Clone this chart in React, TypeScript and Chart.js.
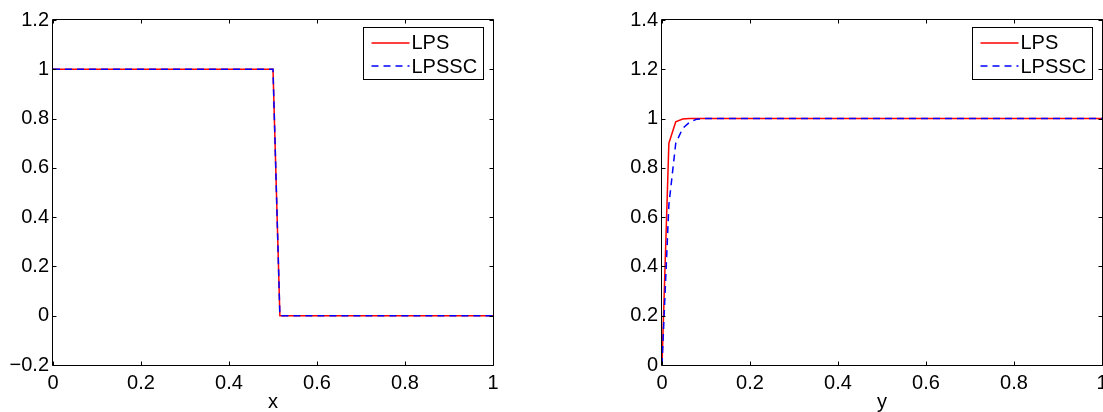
import React, { useEffect, useRef } from "react";
import { Chart, registerables } from "chart.js";

Chart.register(...registerables);

// ---- data ----
const xTicks = [0, 0.2, 0.4, 0.6, 0.8, 1];
const yTicksLeft = [-0.2, 0, 0.2, 0.4, 0.6, 0.8, 1, 1.2];
const yTicksRight = [0, 0.2, 0.4, 0.6, 0.8, 1, 1.2, 1.4];

const leftLpsX = [0, 0.5, 0.515625, 1];
const leftLpsY = [1, 1, 0, 0];
const leftLpsscX = [0, 0.5, 0.515625, 1];
const leftLpsscY = [1, 1, 0, 0];

const rightLpsX = [0, 0.015625, 0.03125, 0.046875, 0.0625, 1];
const rightLpsY = [0, 0.9, 0.987, 0.998, 1, 1];
const rightLpsscX = [0, 0.015625, 0.03125, 0.046875, 0.0625, 0.078125, 0.09375, 1];
const rightLpsscY = [0, 0.65, 0.9, 0.96, 0.985, 0.997, 1, 1];

const seriesNames = ["LPS", "LPSSC"];
const seriesColors = ["#ff0000", "#0000ff"];
const seriesDash: number[][] = [[], [7, 5]];
const LINE_W = 1.5;

const FONT_FAMILY = "'Liberation Sans', Arial, Helvetica, sans-serif";
const FONT_SIZE = 20;

function fmt(v: number): string {
  const r = Number(Number(v).toFixed(2));
  if (r < 0) return "\u2212" + String(-r);
  return String(r);
}

function pts(xs: number[], ys: number[]) {
  return xs.map((x, i) => ({ x, y: ys[i] }));
}

const framePlugin = {
  id: "matlabFrame",
  afterDatasetsDraw(chart: any) {
    const { ctx, chartArea: a, scales } = chart;
    const xs = scales.x;
    const ys = scales.y;
    const tl = 4;
    ctx.save();
    ctx.strokeStyle = "#000";
    ctx.lineWidth = 1;
    ctx.setLineDash([]);
    ctx.beginPath();
    const L = Math.round(a.left) - 0.5;
    const R = Math.round(a.right) + 0.5;
    const T = Math.round(a.top) - 0.5;
    const B = Math.round(a.bottom) + 0.5;
    ctx.rect(L, T, R - L, B - T);
    for (const t of xs.ticks) {
      const px = Math.round(xs.getPixelForValue(t.value)) + 0.5;
      ctx.moveTo(px, B);
      ctx.lineTo(px, B - tl);
      ctx.moveTo(px, T);
      ctx.lineTo(px, T + tl);
    }
    for (const t of ys.ticks) {
      const py = Math.round(ys.getPixelForValue(t.value)) + 0.5;
      ctx.moveTo(L, py);
      ctx.lineTo(L + tl, py);
      ctx.moveTo(R, py);
      ctx.lineTo(R - tl, py);
    }
    ctx.stroke();
    ctx.restore();
  },
  afterDraw(chart: any) {
    const { ctx, chartArea: a } = chart;
    const w = 120;
    const h = 52;
    const bx = Math.round(a.right) - 10 - w + 0.5;
    const by = Math.round(a.top) + 7 + 0.5;
    ctx.save();
    ctx.fillStyle = "#fff";
    ctx.fillRect(bx, by, w, h);
    ctx.strokeStyle = "#000";
    ctx.lineWidth = 1;
    ctx.setLineDash([]);
    ctx.strokeRect(bx, by, w, h);
    const rows = [by + 15, by + 38.5];
    seriesNames.forEach((name, i) => {
      const y = Math.round(rows[i]);
      ctx.beginPath();
      ctx.strokeStyle = seriesColors[i];
      ctx.lineWidth = LINE_W;
      ctx.setLineDash(seriesDash[i]);
      ctx.moveTo(bx + 8, y);
      ctx.lineTo(bx + 46, y);
      ctx.stroke();
      ctx.setLineDash([]);
      ctx.fillStyle = "#000";
      ctx.font = `${FONT_SIZE}px ${FONT_FAMILY}`;
      ctx.textAlign = "left";
      ctx.textBaseline = "middle";
      ctx.fillText(name, bx + 48, rows[i] + 1);
    });
    ctx.restore();
  },
};

type PlotSpec = {
  xTitle: string;
  yMin: number;
  yMax: number;
  yTicks: number[];
  yAxisWidth: number;
  padRight: number;
  lps: { x: number; y: number }[];
  lpssc: { x: number; y: number }[];
};

function makeConfig(p: PlotSpec): any {
  const font = { family: FONT_FAMILY, size: FONT_SIZE };
  return {
    type: "scatter",
    data: {
      datasets: [
        {
          label: seriesNames[0],
          data: p.lps,
          showLine: true,
          borderColor: seriesColors[0],
          backgroundColor: seriesColors[0],
          borderWidth: LINE_W,
          borderDash: seriesDash[0],
          pointRadius: 0,
          tension: 0,
          order: 1,
        },
        {
          label: seriesNames[1],
          data: p.lpssc,
          showLine: true,
          borderColor: seriesColors[1],
          backgroundColor: seriesColors[1],
          borderWidth: LINE_W,
          borderDash: seriesDash[1],
          pointRadius: 0,
          tension: 0,
          order: 0,
        },
      ],
    },
    options: {
      responsive: false,
      animation: false,
      events: [],
      layout: { padding: { top: 20, right: p.padRight, left: 0, bottom: 0 } },
      plugins: { legend: { display: false }, tooltip: { enabled: false } },
      scales: {
        x: {
          type: "linear",
          min: 0,
          max: 1,
          grid: { display: false, drawTicks: false },
          border: { display: false },
          ticks: {
            font,
            color: "#000",
            padding: 6,
            autoSkip: false,
            maxRotation: 0,
            callback: (v: number) => fmt(v),
          },
          afterBuildTicks: (s: any) => {
            s.ticks = xTicks.map((v) => ({ value: v }));
          },
          afterFit: (s: any) => {
            s.height = 47;
            s.paddingLeft = 0;
            s.paddingRight = 0;
          },
          title: {
            display: true,
            text: p.xTitle,
            font,
            color: "#000",
            padding: { top: 0, bottom: -2 },
          },
        },
        y: {
          type: "linear",
          min: p.yMin,
          max: p.yMax,
          grid: { display: false, drawTicks: false },
          border: { display: false },
          ticks: {
            font,
            color: "#000",
            padding: 4,
            autoSkip: false,
            callback: (v: number) => fmt(v),
          },
          afterBuildTicks: (s: any) => {
            s.ticks = p.yTicks.map((v) => ({ value: v }));
          },
          afterFit: (s: any) => {
            s.width = p.yAxisWidth;
            s.paddingTop = 0;
            s.paddingBottom = 0;
          },
        },
      },
    },
    plugins: [framePlugin],
  };
}

function Plot({ spec, left, width }: { spec: PlotSpec; left: number; width: number }) {
  const ref = useRef<HTMLCanvasElement>(null);
  useEffect(() => {
    if (!ref.current) return;
    const chart = new Chart(ref.current, makeConfig(spec));
    return () => chart.destroy();
  }, []);
  return (
    <canvas
      ref={ref}
      width={width}
      height={412}
      style={{ position: "absolute", left, top: 0, width, height: 412 }}
    />
  );
}

const leftSpec: PlotSpec = {
  xTitle: "x",
  yMin: -0.2,
  yMax: 1.2,
  yTicks: yTicksLeft,
  yAxisWidth: 53,
  padRight: 57,
  lps: pts(leftLpsX, leftLpsY),
  lpssc: pts(leftLpsscX, leftLpsscY),
};

const rightSpec: PlotSpec = {
  xTitle: "y",
  yMin: 0,
  yMax: 1.4,
  yTicks: yTicksRight,
  yAxisWidth: 52,
  padRight: 18,
  lps: pts(rightLpsX, rightLpsY),
  lpssc: pts(rightLpsscX, rightLpsscY),
};

export default function App() {
  return (
    <div
      style={{
        position: "fixed",
        left: 0,
        top: 0,
        width: 1103,
        height: 412,
        overflow: "hidden",
        background: "#fff",
      }}
    >
      <Plot spec={leftSpec} left={0} width={550} />
      <Plot spec={rightSpec} left={610} width={510} />
    </div>
  );
}
